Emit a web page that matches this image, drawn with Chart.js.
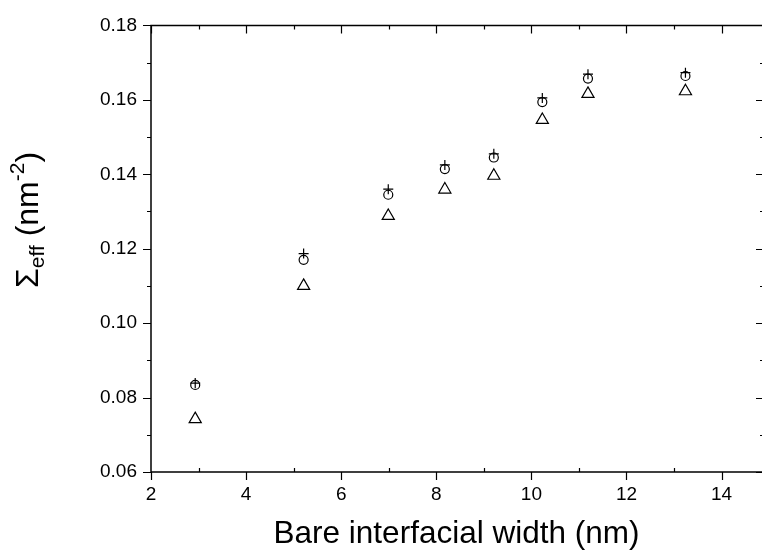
<!DOCTYPE html>
<html>
<head>
<meta charset="utf-8">
<script src="https://cdn.jsdelivr.net/npm/chart.js@4/dist/chart.umd.min.js"></script>
<style>
  html, body { margin: 0; padding: 0; background: #fff; overflow: hidden; }
  #wrap { width: 762px; height: 559px; position: relative; }
</style>
</head>
<body>
<div id="wrap"><canvas id="chart"></canvas></div>
<script>
// data
const widths = [2.93, 5.21, 6.99, 8.18, 9.21, 10.23, 11.19, 13.24];
const plusVals = [0.0839, 0.1187, 0.1360, 0.1425, 0.1455, 0.1605, 0.1669, 0.1673];
const circleVals = [0.0834, 0.1170, 0.1345, 0.1414, 0.1445, 0.1594, 0.1657, 0.1664];
const triangleVals = [0.0742, 0.1100, 0.1288, 0.1359, 0.1396, 0.1546, 0.1616, 0.1623];

const xTicks = [2, 4, 6, 8, 10, 12, 14];
const yTicks = [0.06, 0.08, 0.10, 0.12, 0.14, 0.16, 0.18];

const FONT = "'Liberation Sans', Arial, sans-serif";

function toPoints(xs, ys) {
  return xs.map((x, i) => ({ x: x, y: ys[i] }));
}

// frame + Origin-style tick marks (right border sits just past the canvas edge)
const framePlugin = {
  id: "frame",
  afterDraw(chart) {
    const { ctx, chartArea: a, scales } = chart;
    const xs = scales.x, ys = scales.y;
    ctx.save();
    ctx.strokeStyle = "#000";
    ctx.lineWidth = 1.5;
    ctx.beginPath();
    ctx.moveTo(a.right + 2, a.top); ctx.lineTo(a.left, a.top);
    ctx.lineTo(a.left, a.bottom); ctx.lineTo(a.right + 2, a.bottom);
    ctx.stroke();
    ctx.lineWidth = 1.2;
    ctx.beginPath();
    // x ticks
    for (let v = 2; v <= 14.001; v += 1) {
      const px = Math.round(xs.getPixelForValue(v)) + 0.5;
      const major = Math.abs(v % 2) < 0.001;
      if (major) {
        ctx.moveTo(px, a.bottom); ctx.lineTo(px, a.bottom + 8);
        ctx.moveTo(px, a.top); ctx.lineTo(px, a.top + 8);
      } else {
        ctx.moveTo(px, a.bottom); ctx.lineTo(px, a.bottom - 4);
        ctx.moveTo(px, a.top); ctx.lineTo(px, a.top + 4);
      }
    }
    // y ticks
    for (let i = 0; i <= 12; i++) {
      const v = 0.06 + i * 0.01;
      const py = Math.round(ys.getPixelForValue(v)) + 0.5;
      const major = i % 2 === 0;
      const len = major ? 8 : 4;
      ctx.moveTo(a.left, py); ctx.lineTo(a.left - len, py);
      ctx.moveTo(a.right + 2, py); ctx.lineTo(a.right + 2 - len, py);
    }
    ctx.stroke();

    // y title: Sigma_eff (nm^-2)
    ctx.fillStyle = "#000";
    ctx.translate(38, 288);
    ctx.rotate(-Math.PI / 2);
    ctx.textBaseline = "alphabetic";
    ctx.textAlign = "left";
    let x = 0;
    const big = "32px " + FONT, small = "21px " + FONT;
    ctx.font = big; ctx.fillText("\u03A3", x, 0); x += ctx.measureText("\u03A3").width;
    ctx.font = small; ctx.fillText("eff", x, 6); x += ctx.measureText("eff").width;
    ctx.font = big; ctx.fillText(" (nm", x, 0); x += ctx.measureText(" (nm").width;
    ctx.font = small; ctx.fillText("-2", x, -14); x += ctx.measureText("-2").width;
    ctx.font = big; ctx.fillText(")", x, 0);
    ctx.restore();
  }
};

new Chart(document.getElementById("chart"), {
  type: "scatter",
  data: {
    datasets: [
      {
        label: "plus",
        data: toPoints(widths, plusVals),
        pointStyle: "cross",
        radius: 5,
        borderColor: "#000",
        borderWidth: 1.2
      },
      {
        label: "circle",
        data: toPoints(widths, circleVals),
        pointStyle: "circle",
        radius: 4.5,
        borderColor: "#000",
        backgroundColor: "rgba(0,0,0,0)",
        borderWidth: 1.2
      },
      {
        label: "triangle",
        data: toPoints(widths, triangleVals),
        pointStyle: "triangle",
        radius: 7,
        borderColor: "#000",
        backgroundColor: "rgba(0,0,0,0)",
        borderWidth: 1.2
      }
    ]
  },
  options: {
    responsive: true,
    maintainAspectRatio: false,
    animation: false,
    layout: { autoPadding: false, padding: { top: 15, right: 0, left: 0, bottom: 0 } },
    plugins: {
      legend: { display: false },
      tooltip: { enabled: false }
    },
    scales: {
      x: {
        type: "linear",
        min: 2,
        max: 14.85,
        afterBuildTicks: (s) => { s.ticks = xTicks.map(v => ({ value: v })); },
        afterFit: (s) => { s.height = 87; s.paddingRight = 0; s.paddingLeft = 0; },
        grid: { display: false, drawTicks: false },
        border: { display: false },
        ticks: {
          color: "#000",
          font: { family: FONT, size: 19 },
          padding: 11,
          maxRotation: 0
        },
        title: {
          display: true,
          text: "Bare interfacial width (nm)",
          color: "#000",
          font: { family: FONT, size: 31.5 },
          padding: { top: 0, bottom: 6 }
        }
      },
      y: {
        type: "linear",
        min: 0.06,
        max: 0.18,
        afterBuildTicks: (s) => { s.ticks = yTicks.map(v => ({ value: v })); },
        afterFit: (s) => { s.width = 151; },
        grid: { display: false, drawTicks: false },
        border: { display: false },
        ticks: {
          color: "#000",
          font: { family: FONT, size: 19 },
          padding: 14,
          callback: (v) => v.toFixed(2)
        }
      }
    }
  },
  plugins: [framePlugin]
});
</script>
</body>
</html>
